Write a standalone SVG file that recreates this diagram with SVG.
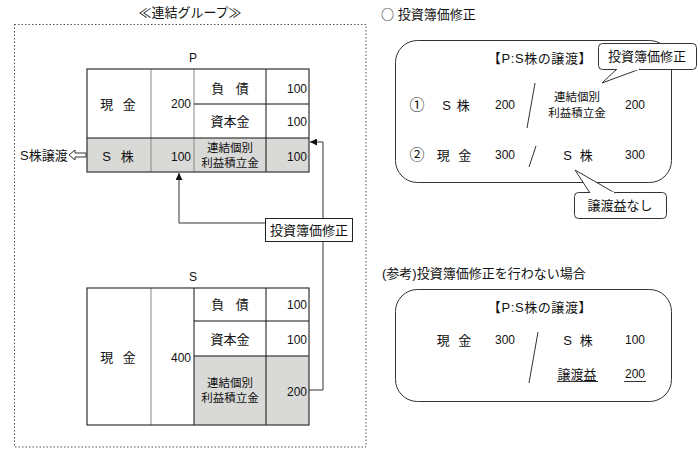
<svg xmlns="http://www.w3.org/2000/svg" width="700" height="449" viewBox="0 0 700 449">
<defs>
<style>
text{font-family:"Liberation Sans","Noto Sans CJK JP",sans-serif;fill:#111;}
.j{font-family:"Noto Sans CJK JP",sans-serif;}
.k{font-size:13px;}
.n{font-size:12px;}
.s{font-size:11.5px;}
.c{font-size:15px;}
.m{text-anchor:middle;}
.e{text-anchor:end;}
.gray{fill:#d9dad7;}
.outer{fill:none;stroke:#333;stroke-width:1.2;}
.inner{stroke:#888;stroke-width:1;fill:none;}
.dark{stroke:#111;stroke-width:1;fill:none;}
.conn{stroke:#333;stroke-width:1;fill:none;}
.rbox{fill:none;stroke:#333;stroke-width:1;}
.call{fill:#fff;stroke:#333;stroke-width:1;}
</style>
<marker id="ah" viewBox="0 0 10 10" refX="10" refY="5" markerWidth="7" markerHeight="7" orient="auto" markerUnits="userSpaceOnUse">
<path d="M0,0 L10,5 L0,10 z" fill="#111"/>
</marker>
</defs>
<rect width="700" height="449" fill="#fff"/>

<g id="group-frame">
<rect x="14.5" y="24.5" width="351.5" height="422.5" fill="none" stroke="#555" stroke-width="1" stroke-dasharray="1.5,2"/>
<text class="k m" x="190" y="17">≪連結グループ≫</text>
</g>

<g id="table-P">
<text class="n m" x="193" y="62">P</text>
<rect class="gray" x="87" y="138" width="222" height="34"/>
<line class="inner" x1="151" y1="69" x2="151" y2="172"/>
<line class="inner" x1="194" y1="69" x2="194" y2="172"/>
<line class="dark" x1="194" y1="104" x2="309" y2="104"/>
<line class="dark" x1="87" y1="138" x2="309" y2="138"/>
<line class="dark" x1="266" y1="69" x2="266" y2="172"/>
<rect class="outer" x="87" y="69" width="222" height="103"/>
<text class="k m" x="118" y="109" word-spacing="6">現 金</text>
<text class="n e" x="191" y="108">200</text>
<text class="k m" x="118" y="161" word-spacing="6">S 株</text>
<text class="n e" x="191" y="161">100</text>
<text class="k m" x="230" y="93" word-spacing="8">負 債</text>
<text class="n e" x="307" y="93">100</text>
<text class="k m" x="230" y="126">資本金</text>
<text class="n e" x="307" y="126">100</text>
<text class="s m" x="230" y="152">連結個別</text>
<text class="s m" x="230" y="167">利益積立金</text>
<text class="n e" x="307" y="161">100</text>
</g>

<g id="label-sale">
<text class="k" x="20" y="160">S株譲渡</text>
<path d="M69,155 L75,150 L75,153 L86,153 L86,157 L75,157 L75,160 z" fill="#fff" stroke="#333" stroke-width="1"/>
</g>

<g id="table-S">
<text class="n m" x="193" y="281">S</text>
<rect class="gray" x="194" y="356" width="115" height="69"/>
<line class="inner" x1="151" y1="288" x2="151" y2="425"/>
<line class="dark" x1="194" y1="288" x2="194" y2="425"/>
<line class="dark" x1="194" y1="321" x2="309" y2="321"/>
<line class="dark" x1="194" y1="356" x2="309" y2="356"/>
<line class="dark" x1="266" y1="288" x2="266" y2="425"/>
<rect class="outer" x="87" y="288" width="222" height="137"/>
<text class="k m" x="118" y="362" word-spacing="6">現 金</text>
<text class="n e" x="191" y="362">400</text>
<text class="k m" x="230" y="309" word-spacing="8">負 債</text>
<text class="n e" x="307" y="309">100</text>
<text class="k m" x="230" y="344">資本金</text>
<text class="n e" x="307" y="344">100</text>
<text class="s m" x="230" y="387">連結個別</text>
<text class="s m" x="230" y="402">利益積立金</text>
<text class="n e" x="307" y="396">200</text>
</g>

<g id="connectors">
<polyline class="conn" points="265,223 179,223 179,173" marker-end="url(#ah)"/>
<polyline class="conn" points="323,218 323,142 310,142" marker-end="url(#ah)"/>
<polyline class="conn" points="323,241 323,390 309,390"/>
</g>

<g id="box-adjust">
<rect x="265.5" y="218.5" width="87" height="23" fill="#fff" stroke="#222" stroke-width="1"/>
<text class="k m" x="309" y="235">投資簿価修正</text>
</g>

<g id="panel-adjust">
<text class="k" x="381" y="19"><tspan class="j">○</tspan> 投資簿価修正</text>
<rect class="rbox" x="395.5" y="40.5" width="276" height="142" rx="22" ry="22"/>
<text class="k m" x="540" y="63" letter-spacing="0.6">【P:S株の譲渡】</text>
<text class="c m j" x="417" y="110">①</text>
<text class="k m" x="456" y="110" word-spacing="2">S 株</text>
<text class="n m" x="505" y="109">200</text>
<line class="conn" x1="535" y1="83" x2="527" y2="128"/>
<text class="s m" x="577" y="101">連結個別</text>
<text class="s m" x="577" y="117">利益積立金</text>
<text class="n m" x="635" y="109">200</text>
<text class="c m j" x="417" y="160">②</text>
<text class="k m" x="454" y="160" word-spacing="5">現 金</text>
<text class="n m" x="505" y="159">300</text>
<line class="conn" x1="536" y1="146" x2="529" y2="167"/>
<text class="k m" x="578" y="160" word-spacing="4">S 株</text>
<text class="n m" x="635" y="159">300</text>
</g>

<g id="callout-adjust">
<rect class="call" x="598.5" y="43.5" width="98" height="26" rx="4" ry="4"/>
<path d="M617,69 L602,83 L640,69" fill="#fff" stroke="#333" stroke-width="1"/>
<line x1="618" y1="69.5" x2="639" y2="69.5" stroke="#fff" stroke-width="1.5"/>
<text class="k m" x="647" y="61">投資簿価修正</text>
</g>

<g id="callout-nogain">
<rect class="call" x="574.5" y="192.5" width="92" height="26" rx="4" ry="4"/>
<path d="M590,193 L575,170 L615,193" fill="#fff" stroke="#333" stroke-width="1"/>
<line x1="591" y1="192.5" x2="614" y2="192.5" stroke="#fff" stroke-width="1.5"/>
<text class="k m" x="620" y="210">譲渡益なし</text>
</g>

<g id="panel-reference">
<text class="k" x="382" y="278">(参考)投資簿価修正を行わない場合</text>
<rect class="rbox" x="395.5" y="289.5" width="276" height="112" rx="22" ry="22"/>
<text class="k m" x="540" y="312" letter-spacing="0.6">【P:S株の譲渡】</text>
<text class="k m" x="454" y="345" word-spacing="5">現 金</text>
<text class="n m" x="505" y="344">300</text>
<line class="conn" x1="538" y1="332" x2="529" y2="383"/>
<text class="k m" x="578" y="345" word-spacing="4">S 株</text>
<text class="n m" x="635" y="344">100</text>
<text class="k m" x="577" y="379">譲渡益</text>
<line class="conn" x1="557" y1="381.5" x2="598" y2="381.5"/>
<text class="n m" x="635" y="378">200</text>
<line class="conn" x1="624" y1="381.5" x2="646" y2="381.5"/>
</g>
</svg>
